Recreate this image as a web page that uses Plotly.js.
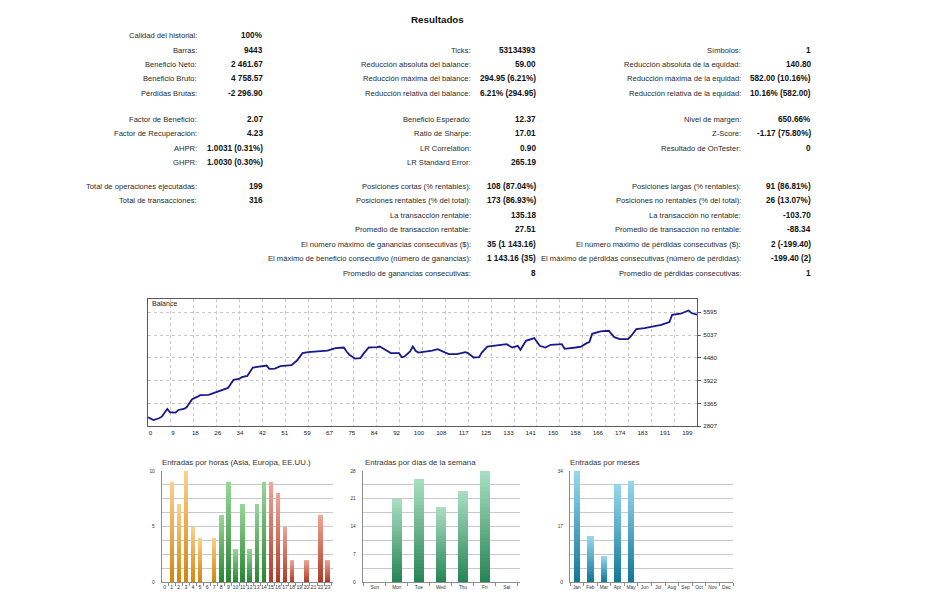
<!DOCTYPE html>
<html>
<head>
<meta charset="utf-8">
<script src="https://cdn.plot.ly/plotly-3.0.1.min.js"></script>
<style>
  html, body { margin: 0; padding: 0; background: #ffffff; }
  #chart { width: 933px; height: 600px; }
</style>
</head>
<body>
<div id="chart"></div>
<script>
// ---------- Summary statistics ----------
const reportTitle = 'Resultados';

const col1Labels = ['Calidad del historial:', 'Barras:', 'Beneficio Neto:', 'Beneficio Bruto:', 'Pérdidas Brutas:',
  'Factor de Beneficio:', 'Factor de Recuperación:', 'AHPR:', 'GHPR:',
  'Total de operaciones ejecutadas:', 'Total de transacciones:'];
const col1Values = ['100%', '9443', '2 461.67', '4 758.57', '-2 296.90',
  '2.07', '4.23', '1.0031 (0.31%)', '1.0030 (0.30%)',
  '199', '316'];

const col2Labels = ['Ticks:', 'Reducción absoluta del balance:', 'Reducción máxima del balance:', 'Reducción relativa del balance:',
  'Beneficio Esperado:', 'Ratio de Sharpe:', 'LR Correlation:', 'LR Standard Error:',
  'Posiciones cortas (% rentables):', 'Posiciones rentables (% del total):', 'La transacción rentable:',
  'Promedio de transacción rentable:', 'El número máximo de ganancias consecutivas ($):',
  'El máximo de beneficio consecutivo (número de ganancias):', 'Promedio de ganancias consecutivas:'];
const col2Values = ['53134393', '59.00', '294.95 (6.21%)', '6.21% (294.95)',
  '12.37', '17.01', '0.90', '265.19',
  '108 (87.04%)', '173 (86.93%)', '135.18',
  '27.51', '35 (1 143.16)',
  '1 143.16 (35)', '8'];

const col3Labels = ['Símbolos:', 'Reducción absoluta de la equidad:', 'Reducción máxima de la equidad:', 'Reducción relativa de la equidad:',
  'Nivel de margen:', 'Z-Score:', 'Resultado de OnTester:',
  'Posiciones largas (% rentables):', 'Posiciones no rentables (% del total):', 'La transacción no rentable:',
  'Promedio de transacción no rentable:', 'El número máximo de pérdidas consecutivas ($):',
  'El máximo de pérdidas consecutivas (número de pérdidas):', 'Promedio de pérdidas consecutivas:'];
const col3Values = ['1', '140.80', '582.00 (10.16%)', '10.16% (582.00)',
  '650.66%', '-1.17 (75.80%)', '0',
  '91 (86.81%)', '26 (13.07%)', '-103.70',
  '-88.34', '2 (-199.40)',
  '-199.40 (2)', '1'];

// ---------- Balance curve (trade number, balance) ----------
const balanceTrade = [0, 2, 4, 5, 6, 7, 8, 10, 11, 13, 14, 16, 18, 19, 22, 23, 25, 27, 29, 31,
  33, 34, 36, 38, 41, 43, 44, 46, 48, 52, 54, 56, 58, 61, 65, 68, 71, 72, 73, 75,
  77, 78, 80, 83, 84, 86, 88, 91, 92, 93, 95, 96, 97, 98, 101, 103, 105, 107, 109, 112,
  115, 116, 118, 120, 121, 123, 127, 130, 132, 134, 135, 137, 140, 141, 142, 144, 146, 150, 151, 155,
  157, 159, 160, 161, 164, 167, 169, 171, 174, 175, 177, 180, 183, 186, 189, 190, 193, 196, 197, 199];
const balanceValue = [3028, 2961, 3003, 3042, 3140, 3231, 3150, 3140, 3206, 3231, 3273, 3469, 3533, 3567, 3574, 3599, 3648, 3697, 3746, 3942,
  3966, 4008, 4040, 4243, 4268, 4292, 4211, 4219, 4278, 4302, 4415, 4596, 4621, 4636, 4660, 4719, 4734, 4636, 4555, 4464,
  4474, 4572, 4734, 4743, 4758, 4677, 4596, 4596, 4498, 4513, 4636, 4758, 4653, 4611, 4636, 4660, 4694, 4636, 4572, 4572,
  4621, 4596, 4489, 4498, 4611, 4758, 4783, 4817, 4734, 4775, 4677, 4898, 4964, 4881, 4775, 4734, 4800, 4817, 4702, 4734,
  4758, 4841, 4866, 5069, 5126, 5143, 4988, 4939, 4939, 5003, 5184, 5209, 5248, 5290, 5356, 5535, 5560, 5640, 5576, 5535];
const balanceXLabels = ['0', '9', '18', '26', '34', '42', '51', '59', '67', '75', '84', '92', '100',
  '108', '117', '125', '133', '141', '150', '158', '166', '174', '183', '191', '199'];
const balanceYTicks = [2807, 3364.6, 3922.2, 4479.8, 5037.4, 5595];
const balanceYLabels = ['2807', '3365', '3922', '4480', '5037', '5595'];

// ---------- Entries histograms ----------
const hourLabels = ['0','1','2','3','4','5','6','7','8','9','10','11','12','13','14','15','16','17','18','19','20','21','22','23'];
const hourEntries = [0, 9, 7, 10, 5, 4, 0, 4, 6, 9, 3, 7, 3, 7, 9, 9, 8, 5, 2, 0, 2, 0, 6, 2];
const hourSession = ['asia','asia','asia','asia','asia','asia','asia','asia',
  'europe','europe','europe','europe','europe','europe','europe',
  'usa','usa','usa','usa','usa','usa','usa','usa','usa'];

const dayLabels = ['Sun', 'Mon', 'Tue', 'Wed', 'Thu', 'Fri', 'Sat'];
const dayEntries = [0, 21, 26, 19, 23, 28, 0];

const monthLabels = ['Jan', 'Feb', 'Mar', 'Apr', 'May', 'Jun', 'Jul', 'Aug', 'Sep', 'Oct', 'Nov', 'Dec'];
const monthEntries = [34, 14, 8, 30, 31, 0, 0, 0, 0, 0, 0, 0];

// ---------- helpers ----------
const W = 933, H = 600;
const fx = x => x / W;          // pixel column -> paper x
const fy = y => 1 - y / H;      // pixel row -> paper y
const FONT = 'Liberation Sans, Arial, sans-serif';

function hexToRgb(h) {
  const n = parseInt(h.slice(1), 16);
  return [(n >> 16) & 255, (n >> 8) & 255, n & 255];
}
function mix(a, b, t) {
  const A = hexToRgb(a), B = hexToRgb(b);
  const c = A.map((v, i) => Math.round(v + (B[i] - v) * t));
  return 'rgb(' + c.join(',') + ')';
}

// Vertical light-to-dark shading: each bar is overlaid by shorter, darker copies.
const SHADE_STEPS = 28;
function shadedBars(cats, vals, topColors, bottomColors, xa, ya, width) {
  const out = [];
  for (let j = 0; j < SHADE_STEPS; j++) {
    const f = 1 - j / SHADE_STEPS;
    const t = j / (SHADE_STEPS - 1);
    out.push({
      type: 'bar', x: cats, y: vals.map(v => v * f), xaxis: xa, yaxis: ya, width: width,
      marker: { color: cats.map((_, i) => mix(topColors[i], bottomColors[i], t)), line: { width: 0 } },
      hoverinfo: 'skip', showlegend: false
    });
  }
  return out;
}

// ---------- annotations: summary table ----------
const annotations = [];
const rowY = [35.5, 50, 64.5, 79, 93.5, 119, 133.5, 148, 162.5, 186.5, 201, 215.5, 229.5, 244, 258.5, 273];
const col1Rows = [0, 1, 2, 3, 4, 5, 6, 7, 8, 9, 10];
const col2Rows = [1, 2, 3, 4, 5, 6, 7, 8, 9, 10, 11, 12, 13, 14, 15];
const col3Rows = [1, 2, 3, 4, 5, 6, 7, 9, 10, 11, 12, 13, 14, 15];

function addColumn(labels, values, rows, labelRight, valueRight) {
  labels.forEach((lab, i) => {
    const y = fy(rowY[rows[i]]);
    annotations.push({ xref: 'paper', yref: 'paper', x: fx(labelRight), y: y, xanchor: 'right', yanchor: 'middle',
      text: lab, showarrow: false, borderpad: 0, font: { family: FONT, size: 7.6, color: '#2a2a2a' } });
    annotations.push({ xref: 'paper', yref: 'paper', x: fx(valueRight), y: y, xanchor: 'right', yanchor: 'middle',
      text: values[i], showarrow: false, borderpad: 0, font: { family: FONT, size: 8.2, color: '#111', weight: 'bold' } });
  });
}
addColumn(col1Labels, col1Values, col1Rows, 198, 264);
addColumn(col2Labels, col2Values, col2Rows, 472, 537);
addColumn(col3Labels, col3Values, col3Rows, 742, 812);

annotations.push({ xref: 'paper', yref: 'paper', x: fx(437), y: fy(20), xanchor: 'center', yanchor: 'middle',
  text: reportTitle, showarrow: false, font: { family: FONT, size: 9.8, color: '#111', weight: 'bold' } });

// chart captions
annotations.push({ xref: 'paper', yref: 'paper', x: fx(151), y: fy(303.5), xanchor: 'left', yanchor: 'middle',
  text: 'Balance', showarrow: false, borderpad: 0, font: { family: FONT, size: 7, color: '#222' } });
const captions = [
  ['Entradas por horas (Asia, Europa, EE.UU.)', 160.5],
  ['Entradas por días de la semana', 363.5],
  ['Entradas por meses', 568.5]
];
captions.forEach(c => annotations.push({ xref: 'paper', yref: 'paper', x: fx(c[1]), y: fy(462.5), xanchor: 'left', yanchor: 'middle',
  text: c[0], showarrow: false, borderpad: 0, font: { family: FONT, size: 7.8, color: '#333' } }));

// ---------- traces ----------
const traces = [];

traces.push({
  type: 'scatter', mode: 'lines', x: balanceTrade, y: balanceValue, xaxis: 'x', yaxis: 'y',
  line: { color: '#17178f', width: 1.8 }, hoverinfo: 'skip', showlegend: false
});
// carrier for the label axis of the balance chart
traces.push({ type: 'scatter', mode: 'lines', x: [], y: [], xaxis: 'x2', yaxis: 'y', hoverinfo: 'skip', showlegend: false });

const sessionTop = { asia: '#F9D08A', europe: '#97D597', usa: '#EDA595' };
const sessionBottom = { asia: '#D5870F', europe: '#2A8733', usa: '#B23C28' };
traces.push(...shadedBars(hourLabels, hourEntries,
  hourSession.map(s => sessionTop[s]), hourSession.map(s => sessionBottom[s]), 'x3', 'y3', 0.62));
traces.push(...shadedBars(dayLabels, dayEntries,
  dayLabels.map(() => '#A8DDC1'), dayLabels.map(() => '#288656'), 'x4', 'y4', 0.48));
traces.push(...shadedBars(monthLabels, monthEntries,
  monthLabels.map(() => '#95D7EC'), monthLabels.map(() => '#12799A'), 'x5', 'y5', 0.46));

// ---------- layout ----------
const balanceGridVals = balanceXLabels.map((_, k) => k * 199 / 24);
// the label row is slightly tighter than the grid divisions
const balanceLabelVals = balanceXLabels.map((_, k) => 0.94 + k * 8.106);

function gridTicks(max, n) {
  const v = [];
  for (let i = 0; i <= n; i++) v.push(max * i / n);
  return v;
}
function sparseText(vals, every) {
  return vals.map((v, i) => (i % every === 0 ? String(Math.round(v)) : ''));
}

function barXAxis(domainPx, range, anchor, fontSize) {
  return {
    domain: [fx(domainPx[0]), fx(domainPx[1])], anchor: anchor, type: 'category', range: range,
    showgrid: false, zeroline: false, showline: true, linecolor: '#8c8c8c', linewidth: 1,
    ticks: 'outside', ticklen: 2.5, tickcolor: '#8c8c8c', tickson: 'boundaries',
    tickangle: 0, tickfont: { family: FONT, size: fontSize, color: '#333' }, ticklabelstandoff: 0, fixedrange: true
  };
}
function barYAxis(max, anchor, every) {
  const vals = gridTicks(max, 8);
  return {
    domain: [fy(582), fy(471)], anchor: anchor, range: [0, max],
    tickmode: 'array', tickvals: vals, ticktext: sparseText(vals, every),
    showgrid: true, gridcolor: '#c9c9c9', gridwidth: 1, zeroline: false,
    showline: true, linecolor: '#8c8c8c', linewidth: 1, ticks: '',
    tickfont: { family: FONT, size: 4.8, color: '#333' }, ticklabelstandoff: 5, fixedrange: true
  };
}

const gridDash = '3px,3px';
const layout = {
  width: W, height: H,
  margin: { l: 0, r: 0, t: 0, b: 0, pad: 0 },
  paper_bgcolor: '#ffffff', plot_bgcolor: '#ffffff',
  showlegend: false, barmode: 'overlay', bargap: 0,
  font: { family: FONT, color: '#333' },
  annotations: annotations,

  xaxis: {
    domain: [fx(148), fx(697)], anchor: 'y', range: [0, 199],
    tickmode: 'array', tickvals: balanceGridVals, showticklabels: false, ticks: '',
    showgrid: true, gridcolor: '#c6c6c6', griddash: gridDash, gridwidth: 1, zeroline: false,
    showline: true, mirror: true, linecolor: '#5a5a5a', linewidth: 1, fixedrange: true
  },
  xaxis2: {
    overlaying: 'x', anchor: 'y', side: 'bottom', range: [0, 199],
    tickmode: 'array', tickvals: balanceLabelVals, ticktext: balanceXLabels,
    showgrid: false, zeroline: false, showline: false, ticks: '',
    tickfont: { family: FONT, size: 6.2, color: '#222' }, ticklabelstandoff: 1, fixedrange: true
  },
  yaxis: {
    domain: [fy(426.3), fy(299)], anchor: 'x', side: 'right', range: [2807, 5920],
    tickmode: 'array', tickvals: balanceYTicks, ticktext: balanceYLabels,
    showgrid: true, gridcolor: '#c6c6c6', griddash: gridDash, gridwidth: 1, zeroline: false,
    showline: true, mirror: true, linecolor: '#5a5a5a', linewidth: 1,
    ticks: 'outside', ticklen: 3, tickcolor: '#5a5a5a',
    tickfont: { family: FONT, size: 6.2, color: '#222' }, ticklabelstandoff: 1, fixedrange: true
  },

  xaxis3: barXAxis([161.7, 333.3], [-0.41, 23.8], 'y3', 5.2),
  yaxis3: barYAxis(10, 'x3', 4),
  xaxis4: barXAxis([362.7, 520], [-0.55, 6.6], 'y4', 4.8),
  yaxis4: barYAxis(28, 'x4', 2),
  xaxis5: barXAxis([570, 733], [-0.5, 11.5], 'y5', 4.8),
  yaxis5: barYAxis(34, 'x5', 4)
};

Plotly.newPlot('chart', traces, layout, { displayModeBar: false, staticPlot: true });
</script>
</body>
</html>
